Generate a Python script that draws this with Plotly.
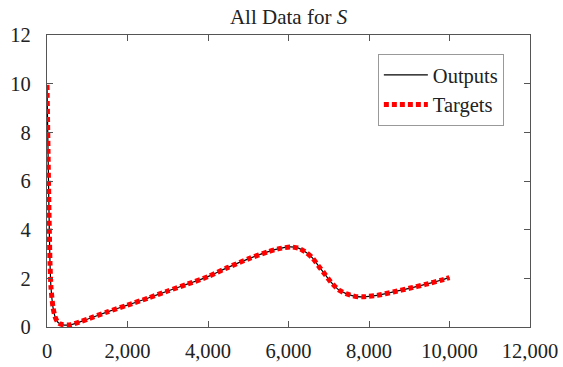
import plotly.graph_objects as go

# Data
x_vals = [0, 25, 50, 75, 100, 150, 200, 250, 300, 400, 500, 600, 800, 1000,
          1500, 2000, 2500, 3000, 3500, 4000, 4500, 5000, 5500, 5800, 6050,
          6250, 6450, 6600, 6750, 6900, 7050, 7250, 7450, 7650, 7850, 8200,
          8600, 9000, 9400, 9800, 10000]
outputs = [9.95, 7.3, 4.7, 2.6, 1.6, 0.8, 0.42, 0.24, 0.15, 0.09, 0.08, 0.1, 0.2, 0.32,
           0.62, 0.9, 1.18, 1.48, 1.77, 2.07, 2.45, 2.8, 3.1, 3.23, 3.29,
           3.24, 3.05, 2.83, 2.5, 2.18, 1.85, 1.52, 1.36, 1.26, 1.24, 1.3,
           1.44, 1.59, 1.75, 1.93, 2.03]
targets = list(outputs)

x_ticks = [0, 2000, 4000, 6000, 8000, 10000, 12000]
y_ticks = [0, 2, 4, 6, 8, 10, 12]

FONT = "Liberation Serif, Times New Roman, serif"

fig = go.Figure()
fig.add_trace(go.Scatter(x=x_vals, y=outputs, mode="lines", name="Outputs",
                         line=dict(color="black", width=1.2, shape="spline", smoothing=0.6)))
fig.add_trace(go.Scatter(x=x_vals, y=targets, mode="lines", name="Targets",
                         line=dict(color="#ff0000", width=5, dash="5px,3px",
                                   shape="spline", smoothing=0.6)))

axis_common = dict(showline=True, linecolor="#555555", linewidth=1.2, mirror="ticks",
                   ticks="inside", ticklen=6, tickcolor="#555555", tickwidth=1,
                   showgrid=False, zeroline=False, automargin=False,
                   tickfont=dict(family=FONT, size=20.5, color="#222222"))

fig.update_layout(
    width=563, height=367,
    margin=dict(l=47, r=33, t=35, b=40),
    paper_bgcolor="white", plot_bgcolor="white",
    title=dict(text="All Data for <i>S</i>", x=0.5125, xanchor="center", y=0.954, yanchor="middle",
               font=dict(family=FONT, size=21, color="#222222")),
    xaxis=dict(range=[0, 12000], tickvals=x_ticks, tickformat=",d",
               ticklabelstandoff=5, **axis_common),
    yaxis=dict(range=[0, 12], tickvals=y_ticks, ticklabelstandoff=11, **axis_common),
    legend=dict(x=0.685, y=0.935, xanchor="left", yanchor="top",
                bordercolor="#999999", borderwidth=1, bgcolor="white",
                font=dict(family=FONT, size=20.5, color="#222222"),
                itemwidth=44, tracegroupgap=0),
    showlegend=True,
)

fig.write_html("out.html")
